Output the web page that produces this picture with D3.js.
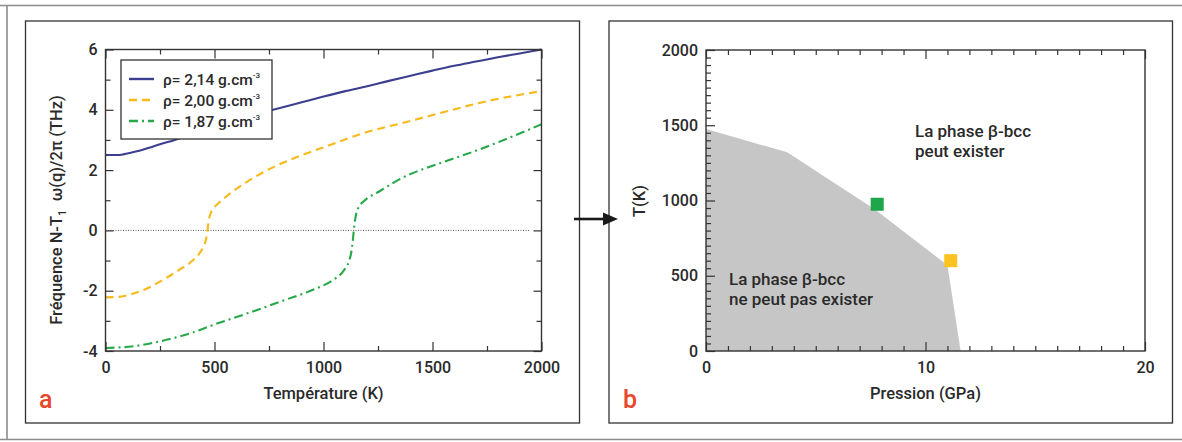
<!DOCTYPE html>
<html><head><meta charset="utf-8">
<script src="https://cdn.jsdelivr.net/npm/d3@7"></script>
<style>
html,body{margin:0;padding:0;background:#fff;}
svg{display:block;font-family:Roboto,"Noto Sans",sans-serif;font-weight:500;}
</style></head><body>
<svg id="fig" width="1182" height="442"></svg>
<script>
// ---- Panel a: N-T1 phonon frequency vs temperature, three densities ----
const tempTicksA = [0, 500, 1000, 1500, 2000];
const tempMinorA = [250, 750, 1250, 1750];
const freqTicksA = [-4, -2, 0, 2, 4, 6];
const freqMinorA = [-3, -1, 1, 3, 5];

const rho214 = [[0,2.5],[50,2.5],[80,2.52],[100,2.55],[150,2.63],[200,2.74],[250,2.86],[300,2.96],[400,3.2],[500,3.42],[600,3.64],[700,3.86],[800,4.06],[900,4.25],[1000,4.44],[1100,4.62],[1200,4.78],[1300,4.96],[1400,5.13],[1500,5.3],[1600,5.46],[1700,5.6],[1800,5.74],[1900,5.87],[2000,6.0]];
const rho200 = [[0,-2.22],[50,-2.21],[100,-2.15],[180,-1.96],[250,-1.7],[340,-1.3],[400,-1.0],[435,-0.72],[455,-0.45],[465,-0.15],[468,0],[471,0.2],[476,0.42],[484,0.6],[496,0.74],[515,0.88],[550,1.1],[640,1.57],[745,2.01],[885,2.45],[1010,2.78],[1185,3.23],[1360,3.56],[1535,3.89],[1710,4.22],[2000,4.62]];
const rho187 = [[0,-3.9],[130,-3.84],[250,-3.68],[395,-3.4],[500,-3.12],[655,-2.74],[830,-2.29],[955,-1.96],[1040,-1.66],[1090,-1.36],[1115,-1.05],[1128,-0.7],[1135,-0.3],[1139,0],[1143,0.25],[1150,0.55],[1162,0.78],[1185,0.97],[1255,1.29],[1360,1.74],[1535,2.23],[1710,2.67],[2000,3.52]];
const densityLabels = ["2,14", "2,00", "1,87"];
const densityColors = ["#3c3f8f", "#f8b91a", "#27a84a"];
const densityDashes = [null, "8,5", "9,4,2,4"];

// ---- Panel b: domain where the beta-bcc phase can exist ----
const pressTicksB = [0, 10, 20];
const pressMinorB = d3.range(1, 20).filter(v => v !== 10);
const tempTicksB = [0, 500, 1000, 1500, 2000];
const tempMinorB = d3.range(50, 2000, 50).filter(v => v % 500 !== 0);
const boundaryB = [[0,0],[0,1475],[3.7,1320],[7.7,940],[11.0,570],[11.6,0]];
const statePressure = [7.8, 11.15];
const stateTemp = [975, 600];
const stateColors = ["#1fa64a", "#fbc31f"];

const svg = d3.select("#fig");
const ink = "#333";
const textInk = "#2a2a2a";

// frames
svg.append("path").attr("d","M0,5.5H1182M0,439.5H1182M7,5.5V439.5")
  .attr("stroke","#8c8c8c").attr("stroke-width",1.6).attr("fill","none");
svg.append("rect").attr("x",25.5).attr("y",21).attr("width",554).attr("height",402)
  .attr("fill","none").attr("stroke",ink).attr("stroke-width",1.3);
svg.append("rect").attr("x",609).attr("y",21).attr("width",563.5).attr("height",402)
  .attr("fill","none").attr("stroke",ink).attr("stroke-width",1.3);

function styleAxis(g){
  g.select(".domain").remove();
  g.selectAll("line").attr("stroke",ink).attr("stroke-width",1.2);
  g.selectAll("text").attr("fill",textInk).attr("font-size",16).attr("font-family","Roboto,'Noto Sans',sans-serif");
}
function frameAxes(x, y, opts){
  const [x0,x1] = x.range(), [y0,y1] = y.range();
  const fmt = d => String(d);
  svg.append("g").attr("transform",`translate(0,${y0})`)
    .call(d3.axisBottom(x).tickValues(opts.xMajor).tickSize(-9).tickPadding(11).tickFormat(fmt)).call(styleAxis);
  svg.append("g").attr("transform",`translate(0,${y0})`)
    .call(d3.axisBottom(x).tickValues(opts.xMinor).tickSize(-5).tickFormat("")).call(styleAxis);
  svg.append("g").attr("transform",`translate(0,${y1})`)
    .call(d3.axisTop(x).tickValues(opts.xMajor).tickSize(-9).tickFormat("")).call(styleAxis);
  svg.append("g").attr("transform",`translate(0,${y1})`)
    .call(d3.axisTop(x).tickValues(opts.xMinor).tickSize(-5).tickFormat("")).call(styleAxis);
  svg.append("g").attr("transform",`translate(${x0},0)`)
    .call(d3.axisLeft(y).tickValues(opts.yMajor).tickSize(-opts.yMajorLen).tickPadding(8).tickFormat(fmt)).call(styleAxis);
  svg.append("g").attr("transform",`translate(${x0},0)`)
    .call(d3.axisLeft(y).tickValues(opts.yMinor).tickSize(-5).tickFormat("")).call(styleAxis);
  if (opts.rightTicks){
    svg.append("g").attr("transform",`translate(${x1},0)`)
      .call(d3.axisRight(y).tickValues(opts.yMajor).tickSize(-opts.yMajorLen).tickFormat("")).call(styleAxis);
    svg.append("g").attr("transform",`translate(${x1},0)`)
      .call(d3.axisRight(y).tickValues(opts.yMinor).tickSize(-5).tickFormat("")).call(styleAxis);
  }
  svg.append("rect").attr("x",x0).attr("y",y1).attr("width",x1-x0).attr("height",y0-y1)
    .attr("fill","none").attr("stroke",ink).attr("stroke-width",1.4);
}

// ================= Panel a =================
const xA = d3.scaleLinear([0,2000],[105.5,541.5]);
const yA = d3.scaleLinear([-4,6],[351,49.5]);

svg.append("line").attr("x1",xA(0)).attr("x2",xA(1950)).attr("y1",yA(0)).attr("y2",yA(0))
  .attr("stroke","#555").attr("stroke-width",1).attr("stroke-dasharray","1,1.5");

const lineA = d3.line().x(d => xA(d[0])).y(d => yA(d[1])).curve(d3.curveMonotoneX);
[rho214, rho200, rho187].forEach((s,i) => {
  svg.append("path").datum(s).attr("d",lineA).attr("fill","none")
    .attr("stroke",densityColors[i]).attr("stroke-width",2.1)
    .attr("stroke-dasharray",densityDashes[i]);
});

frameAxes(xA, yA, {xMajor:tempTicksA, xMinor:tempMinorA, yMajor:freqTicksA, yMinor:freqMinorA, yMajorLen:8, rightTicks:true});

// legend
const leg = svg.append("g");
leg.append("rect").attr("x",121).attr("y",60).attr("width",151).attr("height",79)
  .attr("fill","#fff").attr("stroke",ink).attr("stroke-width",1.3);
densityLabels.forEach((lab,i) => {
  const y = 79 + i*21;
  leg.append("line").attr("x1",129).attr("x2",154).attr("y1",y).attr("y2",y)
    .attr("stroke",densityColors[i]).attr("stroke-width",2.4).attr("stroke-dasharray",densityDashes[i]);
  const t = leg.append("text").attr("x",163).attr("y",y+5.5).attr("font-size",15.5).attr("fill",textInk);
  t.append("tspan").text(`ρ= ${lab} g.cm`);
  t.append("tspan").attr("font-size",8).attr("dy",-7).text("-3");
});

// axis titles
svg.append("text").attr("x",323.5).attr("y",399).attr("text-anchor","middle")
  .attr("font-size",16.5).attr("fill",textInk).text("Température (K)");
const ytA = svg.append("text").attr("transform","translate(62,210) rotate(-90)")
  .attr("text-anchor","middle").attr("font-size",16.5).attr("fill",textInk);
ytA.append("tspan").text("Fréquence N-T");
ytA.append("tspan").attr("font-size",11).attr("dy",4).text("1");
ytA.append("tspan").attr("dy",-4).text("\u2002ω(q)/2π (THz)");

svg.append("text").attr("x",39).attr("y",408).attr("font-size",25)
  .attr("fill","#e8472d").text("a");

// arrow between panels
svg.append("line").attr("x1",574).attr("x2",606).attr("y1",219).attr("y2",219)
  .attr("stroke","#1a1a1a").attr("stroke-width",2.6);
svg.append("path").attr("d","M618,219L603,212.5L603,225.5Z").attr("fill","#1a1a1a");

// ================= Panel b =================
const xB = d3.scaleLinear([0,20],[706,1145]);
const yB = d3.scaleLinear([0,2000],[351,50]);

svg.append("path").datum(boundaryB)
  .attr("d", d3.line().x(d => xB(d[0])).y(d => yB(d[1])))
  .attr("fill","#c6c6c6").attr("stroke","none");

statePressure.forEach((p,i) => {
  svg.append("rect").attr("x",xB(p)-6.5).attr("y",yB(stateTemp[i])-6.5)
    .attr("width",13).attr("height",13).attr("fill",stateColors[i]);
});

frameAxes(xB, yB, {xMajor:pressTicksB, xMinor:pressMinorB, yMajor:tempTicksB, yMinor:tempMinorB, yMajorLen:9, rightTicks:false});

const noteUp = svg.append("text").attr("font-size",17).attr("fill",textInk);
noteUp.append("tspan").attr("x",915).attr("y",137).text("La phase β-bcc");
noteUp.append("tspan").attr("x",915).attr("y",157).text("peut exister");
const noteDown = svg.append("text").attr("font-size",17).attr("fill",textInk);
noteDown.append("tspan").attr("x",729).attr("y",285).text("La phase β-bcc");
noteDown.append("tspan").attr("x",729).attr("y",305).text("ne peut pas exister");

svg.append("text").attr("x",925.5).attr("y",399).attr("text-anchor","middle")
  .attr("font-size",16.5).attr("fill",textInk).text("Pression (GPa)");
svg.append("text").attr("transform","translate(645,201) rotate(-90)")
  .attr("text-anchor","middle").attr("font-size",16.5).attr("fill",textInk).text("T(K)");

svg.append("text").attr("x",623).attr("y",408).attr("font-size",25)
  .attr("fill","#e8472d").text("b");
</script>
</body></html>
